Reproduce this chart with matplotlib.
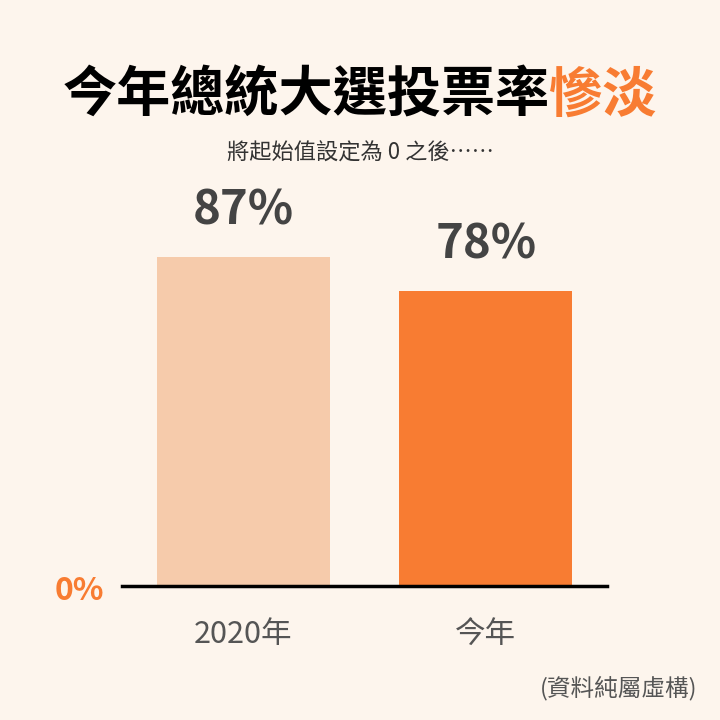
import matplotlib.pyplot as plt

# 資料
categories = ['2020年', '今年']
values = [87, 78]
value_labels = ['87%', '78%']

bg = '#FDF5ED'
orange = '#F87C32'
bar_colors = ['#F6CBAB', orange]

plt.rcParams['font.family'] = ['Noto Sans CJK TC', 'DejaVu Sans']

fig = plt.figure(figsize=(7.2, 7.2), dpi=100, facecolor=bg)
ax = fig.add_axes([122 / 720, 1 - 586 / 720, 485 / 720, 378 / 720])
ax.set_facecolor(bg)

x = list(range(len(categories)))
ax.bar(x, values, width=0.713, color=bar_colors, zorder=2)
for xi, v, lab in zip(x, values, value_labels):
    ax.text(xi, v + 12.3, lab, ha='center', va='center', fontsize=34,
            fontweight='bold', color='#444444')

ax.set_xlim(-0.5, 1.5)
ax.set_ylim(0, 100)
ax.set_xticks(x)
ax.set_xticklabels(categories, fontsize=22, color='#555555', fontweight='light')
ax.tick_params(axis='x', length=0, pad=24)
ax.set_yticks([])
for s in ['top', 'right', 'left']:
    ax.spines[s].set_visible(False)
ax.spines['bottom'].set_linewidth(2.5)
ax.spines['bottom'].set_color('black')
ax.spines['bottom'].set_zorder(3)

# 0% 標籤
fig.text(79 / 720, 1 - 591 / 720, '0%', ha='center', va='center',
         fontsize=23, fontweight='bold', color=orange)

# 標題：黑字 + 橘字，整段置中
ty = 1 - 96 / 720
t1 = fig.text(0.5, ty, '今年總統大選投票率', ha='left', va='center',
              fontsize=39, fontweight='bold', color='black')
t2 = fig.text(0.5, ty, '慘淡', ha='left', va='center',
              fontsize=39, fontweight='bold', color=orange)
fig.canvas.draw()
r = fig.canvas.get_renderer()
w1 = t1.get_window_extent(r).width
w2 = t2.get_window_extent(r).width
left = 0.5 - (w1 + w2) / 2 / 720
t1.set_x(left)
t2.set_x(left + w1 / 720)

fig.text(0.5, 1 - 153 / 720, '將起始值設定為 0 之後……', ha='center', va='center',
         fontsize=16, color='#333333', fontweight='light')

fig.text(697 / 720, 1 - 688 / 720, '(資料純屬虛構)', ha='right', va='center',
         fontsize=17, color='#555555', fontweight='light')

plt.savefig('out.png', dpi=100, facecolor=bg)
